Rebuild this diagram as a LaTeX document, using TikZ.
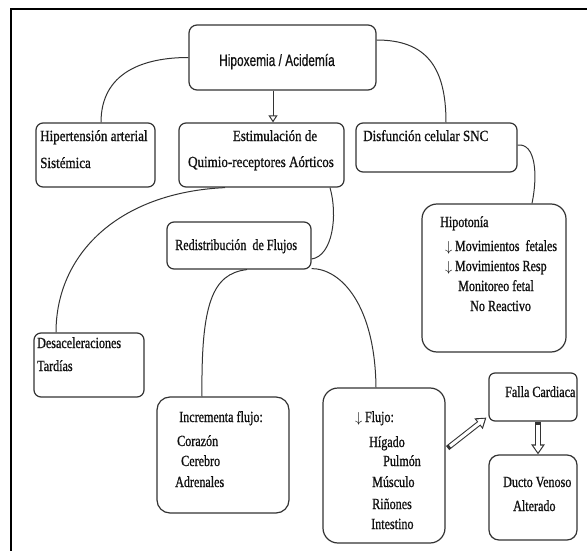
\documentclass[tikz,border=0pt]{standalone}
\usepackage{fontspec}
\setmainfont{Liberation Serif}[FakeStretch=0.78,FakeBold=0.9]
\newfontfamily\rowserif{Liberation Serif}[FakeStretch=0.84,FakeBold=0.9]
\newfontfamily\narrowsans{Liberation Sans}[FakeStretch=0.72,FakeBold=0.5]
\usetikzlibrary{arrows.meta}
\definecolor{linec}{HTML}{333333}
\definecolor{inkc}{HTML}{111111}

\begin{document}
\begin{tikzpicture}[x=1pt,y=-1pt,
  box/.style={draw=linec, line width=1.2pt, inner sep=0pt, rounded corners=#1},
  box/.default=7pt,
  link/.style={draw=linec, line width=1pt},
  opentip/.style={draw=linec, line width=1pt, -{Triangle[open,width=9pt,length=7pt]}},
  blockouter/.style={draw=linec, line width=5.2pt, -{Triangle[width=13pt,length=10pt]}},
  blockinner/.style={draw=white, line width=3.1pt, -{Triangle[width=8.9pt,length=6.9pt]},
                     shorten >=2pt, shorten <=3pt},
  txt/.style={anchor=base west, inner sep=0pt, text=inkc, font=\fontsize{15.5}{18}\selectfont},
  rowtxt/.style={txt, font=\fontsize{15.5}{18}\rowserif},
  crowtxt/.style={rowtxt, anchor=base},
]
\useasboundingbox (0,0) rectangle (587,551);
\fill[white] (0,0) rectangle (587,551);

% outer frame (top and left sides only)
\draw[line width=2.3pt, black] (11,551) -- (11,9) -- (587,9);

% boxes
\node[box=8pt, minimum width=187pt, minimum height=65pt] (hip) at (282.5,57.5) {};
\node[box, minimum width=119pt, minimum height=64pt] (hta) at (95.5,155) {};
\node[box, minimum width=165pt, minimum height=64pt] (est) at (261.5,155) {};
\node[box, minimum width=161pt, minimum height=49pt] (dis) at (436.5,147.5) {};
\node[box, minimum width=144pt, minimum height=47pt] (red) at (239,245.5) {};
\node[box=15pt, minimum width=144pt, minimum height=148pt] (hipo) at (494,278) {};
\node[box, minimum width=110pt, minimum height=64pt] (des) at (89,365) {};
\node[box=13pt, minimum width=132pt, minimum height=116pt] (inc) at (223,455) {};
\node[box=15pt, minimum width=122pt, minimum height=155pt] (flu) at (384,465.5) {};
\node[box=6pt, minimum width=88pt, minimum height=48pt] (fal) at (533,397) {};
\node[box=10pt, minimum width=88pt, minimum height=85pt] (duc) at (533,497.5) {};

% texts
\node[anchor=base, inner sep=0pt, text=inkc, font=\fontsize{16.5}{19}\narrowsans] (hipT) at (277,66) {Hipoxemia / Acidemía};

\node[rowtxt] (htaA) at (40,141) {Hipertensión arterial};
\node[rowtxt] (htaB) at (40,168) {Sistémica};

\node[crowtxt] (estA) at (275,141) {Estimulación de};
\node[crowtxt] (estB) at (261,167) {Quimio-receptores Aórticos};

\node[rowtxt] (disA) at (363,141) {Disfunción celular SNC};

\node[txt] (redA) at (175,250) {Redistribución\ \ de Flujos};

\node[txt] (hipoA) at (440,227) {Hipotonía};
\node[txt] (hipoB) at (445,251) {$\downarrow$\,Movimientos\ \ fetales};
\node[txt] (hipoC) at (445,271) {$\downarrow$\,Movimientos Resp};
\node[txt] (hipoD) at (458,291) {Monitoreo fetal};
\node[txt] (hipoE) at (470,311) {No Reactivo};

\node[txt] (desA) at (37,348) {Desaceleraciones};
\node[txt] (desB) at (37,371) {Tardías};

\node[txt] (incA) at (179,422) {Incrementa flujo:};
\node[txt] (incB) at (177,446) {Corazón};
\node[txt] (incC) at (181,466) {Cerebro};
\node[txt] (incD) at (175,487) {Adrenales};

\node[txt] (fluA) at (355,422) {$\downarrow$\,Flujo:};
\node[txt] (fluB) at (369,447) {Hígado};
\node[txt] (fluC) at (383,466) {Pulmón};
\node[txt] (fluD) at (372,487) {Músculo};
\node[txt] (fluE) at (372,509) {Riñones};
\node[txt] (fluF) at (371,529) {Intestino};

\node[txt] (falA) at (505,397) {Falla Cardiaca};

\node[txt] (ducA) at (503,487) {Ducto Venoso};
\node[txt] (ducB) at (513,511) {Alterado};

% curved connectors
\draw[link] (hip.west) .. controls +(-45,0) and +(0,-50) .. ([xshift=5.5pt]hta.north);
\draw[link] ([yshift=17.5pt]hip.east) .. controls +(50,0) and +(0,-55) .. ([xshift=9.5pt]dis.north);
\draw[opentip] ([xshift=-9.5pt]hip.south) -- ([xshift=11.5pt]est.north);
\draw[link] ([yshift=2.5pt]dis.east) .. controls +(18,-2) and +(6,-29) .. ([xshift=38pt]hipo.north);
\draw[link] ([xshift=-36.5pt]est.south) .. controls +(-107,5) and +(0,-78) .. ([xshift=-33pt]des.north);
\draw[link] ([xshift=68.5pt]est.south) .. controls +(8,28) and +(21,-3) .. ([yshift=-13.5pt]red.east);
\draw[link] ([xshift=8pt]red.south) .. controls +(-35,4) and +(-1,-92) .. ([xshift=-21pt]inc.north);
\draw[link] ([yshift=1pt]red.south east) .. controls +(29,0) and +(-1,-83) .. ([xshift=-8pt]flu.north);

% block arrows
\draw[blockouter] ([xshift=2pt,yshift=17.5pt]flu.east) -- ([xshift=-2pt,yshift=4pt]fal.south west);
\draw[blockinner] ([xshift=2pt,yshift=17.5pt]flu.east) -- ([xshift=-2pt,yshift=4pt]fal.south west);
\draw[blockouter] ([xshift=5pt]fal.south) -- ([xshift=5pt]duc.north);
\draw[blockinner] ([xshift=5pt]fal.south) -- ([xshift=5pt]duc.north);
\end{tikzpicture}
\end{document}
